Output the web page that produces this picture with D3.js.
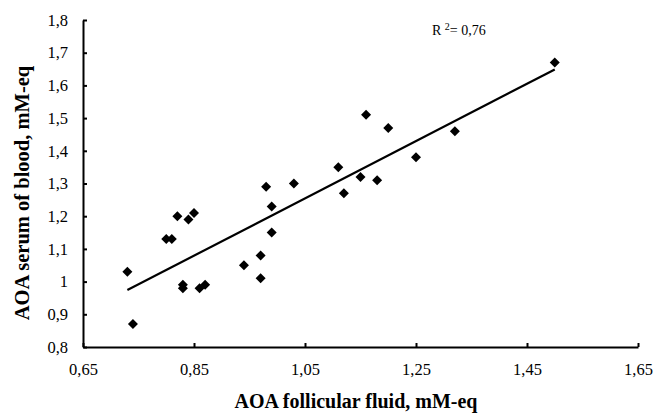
<!DOCTYPE html>
<html>
<head>
<meta charset="utf-8">
<script src="https://cdn.jsdelivr.net/npm/d3@7"></script>
<style>
  body { margin: 0; background: #fff; }
</style>
</head>
<body>
<svg id="chart" width="654" height="413"></svg>
<script>
// AOA follicular fluid vs serum of blood (mM-eq)
var follicular = [0.73, 0.74, 0.80, 0.81, 0.82, 0.83, 0.83, 0.84, 0.85, 0.86, 0.87,
                  0.94, 0.97, 0.97, 0.98, 0.99, 0.99, 1.03, 1.11, 1.12, 1.15, 1.16,
                  1.18, 1.20, 1.25, 1.32, 1.50];
var serum      = [1.03, 0.87, 1.13, 1.13, 1.20, 0.99, 0.98, 1.19, 1.21, 0.98, 0.99,
                  1.05, 1.08, 1.01, 1.29, 1.23, 1.15, 1.30, 1.35, 1.27, 1.32, 1.51,
                  1.31, 1.47, 1.38, 1.46, 1.67];
var xTicks = [0.65, 0.85, 1.05, 1.25, 1.45, 1.65];
var yTicks = [0.8, 0.9, 1.0, 1.1, 1.2, 1.3, 1.4, 1.5, 1.6, 1.7, 1.8];
var rSquared = "0,76";

var FONT = '"Liberation Serif", "DejaVu Serif", serif';
var margin = {left: 83, top: 20, right: 16, bottom: 66};
var svg = d3.select('#chart');
var width = 654, height = 413;

var x = d3.scaleLinear().domain([0.65, 1.65]).range([margin.left, width - margin.right]);
var y = d3.scaleLinear().domain([0.8, 1.8]).range([height - margin.bottom, margin.top]);

function comma(d) {
	// 1 stays "1", others use decimal comma
	var s = (Math.round(d * 100) / 100).toString();
	return s.replace('.', ',');
}

// axes
var xAxis = d3.axisBottom(x).tickValues(xTicks).tickSizeInner(-4).tickSizeOuter(0)
	.tickPadding(13).tickFormat(comma);
var yAxis = d3.axisLeft(y).tickValues(yTicks).tickSizeInner(-4).tickSizeOuter(0)
	.tickPadding(15).tickFormat(comma);

var gx = svg.append('g').attr('transform', 'translate(0,' + y(0.8) + ')').call(xAxis);
var gy = svg.append('g').attr('transform', 'translate(' + x(0.65) + ',0)').call(yAxis);

[gx, gy].forEach(function(g) {
	g.attr('font-family', FONT);
	g.select('.domain').attr('stroke', '#000').attr('stroke-width', 2);
	g.selectAll('.tick line').attr('stroke', '#000').attr('stroke-width', 2);
	g.selectAll('.tick text').style('font-family', FONT).style('font-size', '16.5px').attr('fill', '#000');
});
gx.selectAll('.tick text').attr('dy', '0.9em');

// regression line computed from the points
var n = follicular.length;
var mx = d3.mean(follicular), my = d3.mean(serum);
var sxy = 0, sxx = 0;
for (var i = 0; i < n; i++) {
	sxy += (follicular[i] - mx) * (serum[i] - my);
	sxx += (follicular[i] - mx) * (follicular[i] - mx);
}
var m = sxy / sxx, b = my - m * mx;
var startX = d3.min(follicular), endX = d3.max(follicular);

svg.append('line')
	.attr('x1', x(startX)).attr('y1', y(m * startX + b))
	.attr('x2', x(endX)).attr('y2', y(m * endX + b))
	.attr('stroke', '#000')
	.attr('stroke-width', 2.2);

// diamond markers
svg.selectAll('path.pt')
	.data(follicular.map(function(d, i) { return [d, serum[i]]; }))
	.enter().append('path')
	.attr('class', 'pt')
	.attr('d', 'M0,-5L5,0L0,5L-5,0Z')
	.attr('transform', function(d) { return 'translate(' + x(d[0]) + ',' + y(d[1]) + ')'; })
	.attr('fill', '#000');

// R squared label
var r2 = svg.append('text').attr('x', 432).attr('y', 35)
	.style('font-family', FONT).style('font-size', '14px');
r2.append('tspan').text('R ');
r2.append('tspan').attr('dy', -5).style('font-size', '10px').text('2');
r2.append('tspan').attr('dy', 5).text('= ' + rSquared);

// axis titles
svg.append('text')
	.attr('x', 356).attr('y', 408)
	.attr('text-anchor', 'middle')
	.style('font-family', FONT)
	.style('font-size', '20px').style('font-weight', 'bold')
	.text('AOA follicular fluid, mM-eq');

svg.append('text')
	.attr('transform', 'translate(29,' + 193 + ') rotate(-90)')
	.attr('text-anchor', 'middle')
	.style('font-family', FONT)
	.style('font-size', '20.5px').style('font-weight', 'bold')
	.text('AOA serum of blood, mM-eq');
</script>
</body>
</html>
